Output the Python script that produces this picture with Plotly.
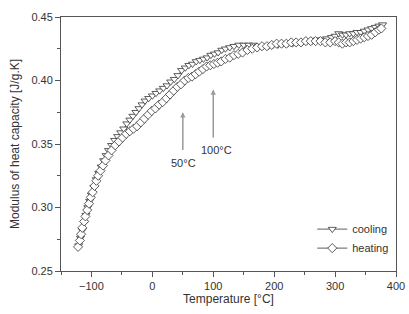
import plotly.graph_objects as go

# ---- data ----
heat_T = [-122, -119, -117, -115, -112, -110, -107, -104, -101, -98, -95, -92, -89, -85, -81, -77,
          -72, -67, -61, -55, -49, -43, -37, -31, -25, -19, -13, -7, -1, 5, 11, 17, 23, 29, 35,
          41, 47, 53, 59, 65, 71, 77, 83, 89, 95, 101, 107, 113, 120, 127, 134, 141, 148, 156,
          164, 172, 180, 188, 196, 204, 212, 220, 228, 236, 244, 252, 260, 268, 276, 284, 292,
          300, 306, 312, 318, 324, 330, 336, 342, 348, 354, 360, 366, 372, 376]
heat_C = [0.269, 0.274, 0.279, 0.284, 0.289, 0.293, 0.298, 0.303, 0.308, 0.312, 0.317, 0.321,
          0.325, 0.329, 0.333, 0.337, 0.341, 0.345, 0.349, 0.352, 0.355, 0.358, 0.360, 0.362,
          0.364, 0.367, 0.370, 0.373, 0.376, 0.378, 0.381, 0.383, 0.386, 0.389, 0.392, 0.395,
          0.397, 0.400, 0.402, 0.403, 0.405, 0.407, 0.409, 0.411, 0.412, 0.413, 0.414, 0.415,
          0.417, 0.418, 0.420, 0.421, 0.422, 0.424, 0.425, 0.426, 0.427, 0.427, 0.428, 0.429,
          0.429, 0.429, 0.430, 0.430, 0.430, 0.431, 0.431, 0.431, 0.431, 0.430, 0.430, 0.431,
          0.430, 0.429, 0.430, 0.430, 0.431, 0.432, 0.433, 0.434, 0.435, 0.436, 0.438, 0.440,
          0.441]

cool_T = [-121, -118, -115, -112, -109, -106, -103, -100, -96, -92, -88, -84, -80, -76, -72,
          -67, -62, -57, -52, -47, -42, -37, -32, -27, -22, -17, -12, -6, 0, 6, 12, 18, 24, 30,
          36, 42, 48, 54, 60, 66, 72, 78, 84, 90, 96, 102, 108, 114, 120, 127, 134, 142, 150,
          158, 166, 174, 182, 190, 198, 206, 214, 222, 230, 238, 246, 254, 262, 270, 278, 286,
          294, 300, 306, 312, 318, 324, 330, 336, 342, 348, 354, 360, 366, 372, 378]
cool_C = [0.270, 0.276, 0.282, 0.288, 0.294, 0.300, 0.305, 0.310, 0.316, 0.322, 0.327, 0.332,
          0.337, 0.341, 0.345, 0.349, 0.353, 0.356, 0.359, 0.362, 0.366, 0.369, 0.372, 0.375,
          0.378, 0.381, 0.384, 0.386, 0.388, 0.390, 0.392, 0.394, 0.396, 0.399, 0.401, 0.404,
          0.408, 0.410, 0.412, 0.413, 0.415, 0.416, 0.417, 0.418, 0.420, 0.421, 0.422, 0.424,
          0.425, 0.426, 0.427, 0.428, 0.428, 0.428, 0.428, 0.427, 0.427, 0.427, 0.428, 0.428,
          0.429, 0.429, 0.429, 0.430, 0.430, 0.431, 0.431, 0.432, 0.432, 0.433, 0.434, 0.435,
          0.437, 0.436, 0.436, 0.437, 0.437, 0.438, 0.438, 0.439, 0.440, 0.441, 0.442, 0.443,
          0.444]

x_ticks = [-100, 0, 100, 200, 300, 400]
y_ticks = [0.25, 0.30, 0.35, 0.40, 0.45]
y_tick_text = ["0.25", "0.30", "0.35", "0.40", "0.45"]

# arrow annotations (temperature, arrow tail value, arrow head value, label)
arrow_T = [50, 100]
arrow_tail = [0.344, 0.354]
arrow_head = [0.375, 0.393]
arrow_label = ["50°C", "100°C"]
label_pos = [(51, 0.335), (106, 0.345)]

FONT = "Liberation Sans, Arial, sans-serif"
DARK = "#333333"
AX = "#555555"

fig = go.Figure()
fig.add_trace(go.Scatter(
    x=cool_T, y=cool_C, name="cooling", mode="lines+markers",
    line=dict(color=DARK, width=0.8),
    marker=dict(symbol="triangle-down", size=7, color="white",
                line=dict(color=DARK, width=0.8))))
fig.add_trace(go.Scatter(
    x=heat_T, y=heat_C, name="heating", mode="lines+markers",
    line=dict(color=DARK, width=0.8),
    marker=dict(symbol="diamond", size=7, color="white",
                line=dict(color=DARK, width=0.8))))

for T, t0, t1 in zip(arrow_T, arrow_tail, arrow_head):
    fig.add_annotation(x=T, y=t1, ax=T, ay=t0, xref="x", yref="y", axref="x", ayref="y",
                       text="", showarrow=True, arrowhead=2, arrowsize=0.7,
                       arrowwidth=1.5, arrowcolor="#9a9a9a")
for (lx, ly), lab in zip(label_pos, arrow_label):
    fig.add_annotation(x=lx, y=ly, xref="x", yref="y", text=lab, showarrow=False,
                       font=dict(family=FONT, size=11, color=DARK))

axis_common = dict(showline=True, linecolor=AX, linewidth=1, mirror=True,
                   ticks="outside", ticklen=5, tickcolor=AX, showgrid=False,
                   zeroline=False, automargin=False,
                   tickfont=dict(family=FONT, size=11, color=DARK))

fig.update_xaxes(range=[-150, 400], tickvals=x_ticks,
                 minor=dict(ticks="outside", ticklen=3, tickcolor=AX, dtick=50, tick0=-150),
                 title=dict(text="Temperature [°C]", font=dict(family=FONT, size=12, color=DARK),
                            standoff=2),
                 **axis_common)
fig.update_yaxes(range=[0.25, 0.45], tickvals=y_ticks, ticktext=y_tick_text,
                 minor=dict(ticks="outside", ticklen=3, tickcolor=AX, dtick=0.025, tick0=0.25),
                 title=dict(text="Modulus of heat capacity [J/g.K]",
                            font=dict(family=FONT, size=12, color=DARK), standoff=9),
                 **axis_common)

fig.update_layout(
    width=409, height=314,
    margin=dict(l=61, r=13, t=17, b=43),
    paper_bgcolor="white", plot_bgcolor="white",
    font=dict(family=FONT, size=11, color=DARK),
    legend=dict(x=0.75, y=0.222, xanchor="left", yanchor="top", bgcolor="rgba(0,0,0,0)",
                font=dict(family=FONT, size=11, color=DARK), itemwidth=30,
                tracegroupgap=0),
)

fig.write_html("out.html", config={"displayModeBar": False},
               post_script="document.body.style.margin='0';")
